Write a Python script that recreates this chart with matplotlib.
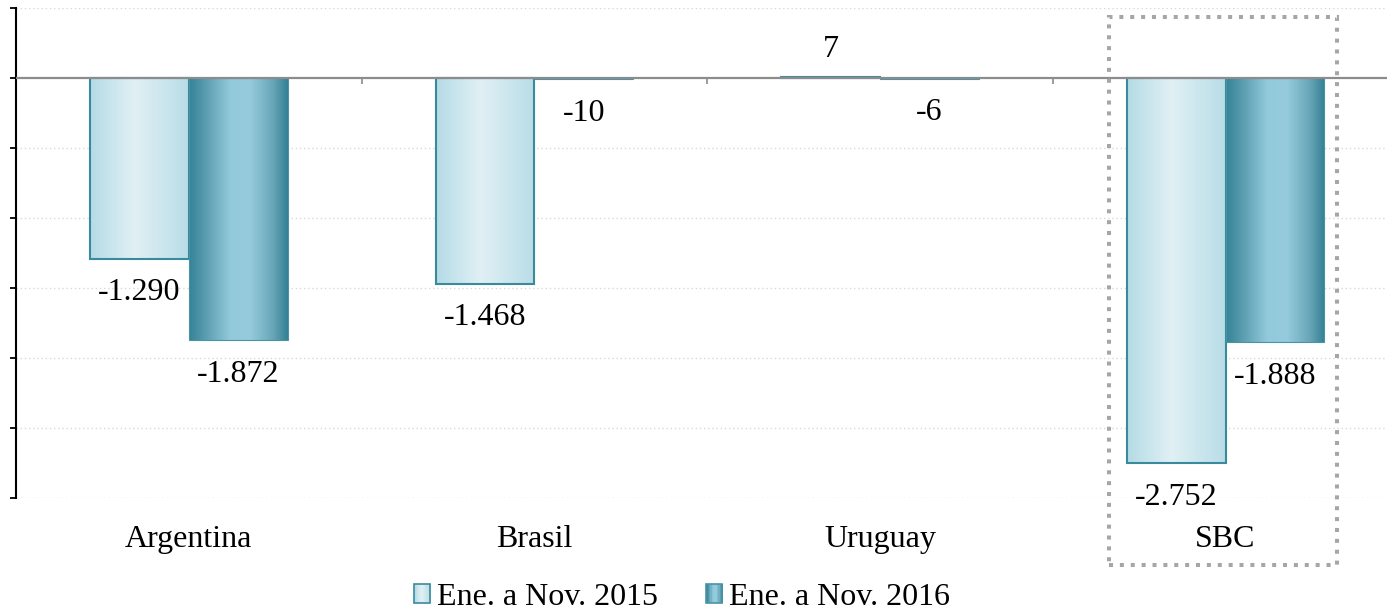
import numpy as np
import matplotlib
matplotlib.use("Agg")
import matplotlib.pyplot as plt
from matplotlib.colors import LinearSegmentedColormap
from matplotlib.legend_handler import HandlerBase
from matplotlib.patches import Rectangle

categories = ["Argentina", "Brasil", "Uruguay", "SBC"]
series_names = ["Ene. a Nov. 2015", "Ene. a Nov. 2016"]
values_2015 = [-1290, -1468, 7, -2752]
values_2016 = [-1872, -10, -6, -1888]
y_ticks = [500, 0, -500, -1000, -1500, -2000, -2500, -3000]

plt.rcParams["font.family"] = ["Liberation Serif", "DejaVu Serif"]
FS = 23

cmap_2015 = LinearSegmentedColormap.from_list(
    "c15", [(0, "#b4dbe5"), (0.45, "#e1f0f5"), (1, "#b8dde7")])
cmap_2016 = LinearSegmentedColormap.from_list(
    "c16", [(0, "#368397"), (0.12, "#4f95a8"), (0.42, "#93cadb"),
            (0.62, "#95cbdc"), (0.85, "#68a6b7"), (1, "#338095")])
edge_2015 = "#3a8a9e"
edge_2016 = "#4a93a6"


def fmt(v):
    return f"{v:,}".replace(",", ".")


def fill_gradient(ax, bars, cmap):
    grad = np.linspace(0, 1, 256).reshape(1, -1)
    for b in bars:
        x, y, w, h = b.get_x(), b.get_y(), b.get_width(), b.get_height()
        ax.imshow(grad, cmap=cmap, extent=[x, x + w, y, y + h],
                  aspect="auto", zorder=2, interpolation="bilinear")


class GradientHandler(HandlerBase):
    def __init__(self, cmap, edge):
        super().__init__()
        self.cmap = cmap
        self.edge = edge

    def create_artists(self, legend, orig_handle, xdescent, ydescent,
                       width, height, fontsize, trans):
        arts = []
        n = 12
        for i in range(n):
            r = Rectangle((-xdescent + i * width / n, -ydescent), width / n + 0.2,
                          height, facecolor=self.cmap((i + 0.5) / n),
                          edgecolor="none", transform=trans)
            arts.append(r)
        arts.append(Rectangle((-xdescent, -ydescent), width, height,
                              facecolor="none", edgecolor=self.edge,
                              linewidth=1.2, transform=trans))
        return arts


def main():
    fig = plt.figure(figsize=(13.87, 6.11), dpi=100)
    ax = fig.add_axes([16 / 1387, 1 - 498 / 611, 4 * 345.6 / 1387, 490 / 611])

    x = np.arange(len(categories))
    w = 0.286
    b15 = ax.bar(x - w / 2, values_2015, w, facecolor="none",
                 edgecolor=edge_2015, linewidth=1.5, zorder=3)
    b16 = ax.bar(x + w / 2, values_2016, w, facecolor="none",
                 edgecolor=edge_2016, linewidth=0.8, zorder=3)
    fill_gradient(ax, b15, cmap_2015)
    fill_gradient(ax, b16, cmap_2016)

    for bars, vals in ((b15, values_2015), (b16, values_2016)):
        for b, v in zip(bars, vals):
            off = 19.5 if v > 0 else -24.5
            ax.annotate(fmt(v), (b.get_x() + b.get_width() / 2, v),
                        xytext=(0, off), textcoords="offset points",
                        ha="center", va="center", fontsize=FS, zorder=5)

    ax.set_xlim(-0.5, len(categories) - 0.5)
    ax.set_ylim(y_ticks[-1], y_ticks[0])

    # grid and zero line
    for t in y_ticks:
        if t != 0:
            ax.axhline(t, color="#d9d9d9", linewidth=1, linestyle=(0, (1, 2)), zorder=1)
    ax.axhline(0, color="#8c8c8c", linewidth=1.6, zorder=4)
    ax.vlines(x[:-1] + 0.5, -45, 0, color="#8c8c8c", linewidth=1.2, zorder=4)

    ax.set_yticks(y_ticks)
    ax.set_yticklabels([])
    ax.tick_params(axis="y", direction="out", length=4.5, width=1.3, color="black")
    ax.set_xticks(x)
    ax.set_xticklabels(categories, fontsize=FS)
    ax.tick_params(axis="x", length=0, pad=19.5)

    for s in ("top", "right", "bottom"):
        ax.spines[s].set_visible(False)
    ax.spines["left"].set_linewidth(1.5)
    ax.spines["left"].set_color("black")

    # highlight box around SBC
    box = Rectangle((2.6626, -3479), 0.6598, 3479 + 436, fill=False,
                    edgecolor="#a6a6a6", linewidth=2.9,
                    linestyle=(0, (1, 1.7)), clip_on=False, zorder=6)
    ax.add_patch(box)

    h15 = Rectangle((0, 0), 1, 1)
    h16 = Rectangle((0, 0), 1, 1)
    fig.legend([h15, h16], series_names, loc="center",
               bbox_to_anchor=(0.492, 0.0225), ncol=2, frameon=False,
               fontsize=FS, handlelength=0.5, handleheight=0.5,
               handletextpad=0.22, columnspacing=1.5, borderaxespad=0,
               handler_map={h15: GradientHandler(cmap_2015, edge_2015),
                            h16: GradientHandler(cmap_2016, edge_2016)})

    fig.savefig("out.png", dpi=100)


if __name__ == "__main__":
    main()
